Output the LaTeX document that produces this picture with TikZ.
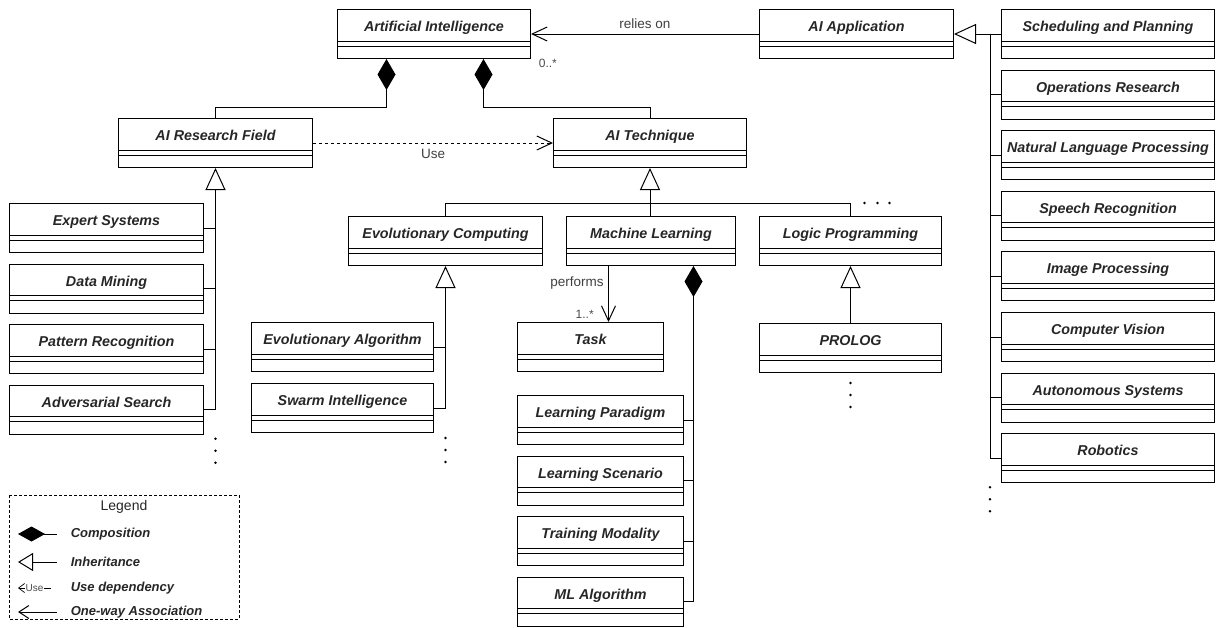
\documentclass[tikz,border=0pt]{standalone}
\usepackage{fontspec}
\setmainfont{Liberation Sans}
\usetikzlibrary{arrows.meta,positioning,calc}
\newcommand{\clsfont}{\fontsize{14.3}{16}\selectfont\bfseries\itshape}
\newcommand{\keyfont}{\fontsize{13}{15}\selectfont\bfseries\itshape}

\begin{document}
\begin{tikzpicture}[x=1pt,y=-1pt,line width=1pt,
  cls/.style={draw,anchor=north west,inner sep=0pt,minimum width=#1,
    text height=22pt,text depth=27pt,font=\clsfont,text=black!85},
  cls/.default=194,
  compose/.style={{Diamond[length=31pt,width=18pt]}-},
  inherit/.style={{Triangle[open,length=22pt,width=20pt]}-},
  assoc/.style={-{Straight Barb[length=15pt,width=14pt]}},
  usedep/.style={assoc,dash pattern=on 3pt off 3pt},
  lbl/.style={font=\fontsize{13.5}{15}\selectfont,text=black!75},
  mult/.style={font=\fontsize{12}{14}\selectfont,text=black!70},
  dot/.style={radius=1.4pt}]
\useasboundingbox (0,0) rectangle (1217,627);

\node[cls=193] (ai) at (337,9) {Artificial Intelligence};
\node[cls] (app) at (759,9) {AI Application};
\foreach \i/\n/\t in {0/sched/Scheduling and Planning,1/opres/Operations Research,
    2/nlp/Natural Language Processing,3/speech/Speech Recognition,
    4/image/Image Processing,5/vision/Computer Vision,
    6/autosys/Autonomous Systems,7/robot/Robotics}
  \node[cls=213] (\n) at (1001,9+60.6*\i) {\t};

\node[cls] (research) at (118,118) {AI Research Field};
\node[cls=193] (tech) at (553,118) {AI Technique};
\foreach \i/\n/\t in {0/expert/Expert Systems,1/mining/Data Mining,
    2/pattern/Pattern Recognition,3/adv/Adversarial Search}
  \node[cls] (\n) at (9,203+60.6*\i) {\t};

\node[cls] (evo) at (348,216) {Evolutionary Computing};
\node[cls=169] (ml) at (566,216) {Machine Learning};
\node[cls=182] (logic) at (759,216) {Logic Programming};
\node[cls=182] (evoalg) at (251,322) {Evolutionary Algorithm};
\node[cls=182] (swarm) at (251,383) {Swarm Intelligence};
\node[cls=146] (task) at (517,322) {Task};
\node[cls=182] (prolog) at (759,323) {PROLOG};
\foreach \i/\n/\t in {0/paradigm/Learning Paradigm,1/scenario/Learning Scenario,
    2/modality/Training Modality,3/mlalgo/ML Algorithm}
  \node[cls=166] (\n) at (517,395+60.6*\i) {\t};

\foreach \n in {ai,app,sched,opres,nlp,speech,image,vision,autosys,robot,
    research,tech,expert,mining,pattern,adv,evo,ml,logic,evoalg,swarm,
    task,prolog,paradigm,scenario,modality,mlalgo}
  \draw ([yshift=-32pt]\n.north west) -- ([yshift=-32pt]\n.north east)
        ([yshift=-37pt]\n.north west) -- ([yshift=-37pt]\n.north east);

\draw[assoc] (app.west) -- (ai.east) node[midway,above=2pt,lbl] {relies on};
\node[mult,anchor=west] (aimult) at ($(ai.south east)+(4,4)$) {0..*};

\draw[inherit] (app.east) -- (sched.west);
\coordinate (appspine) at ($(sched.west)+(-11,0)$);
\draw (appspine) |- (robot.west);
\foreach \n in {opres,nlp,speech,image,vision,autosys}
  \draw (\n.west) -- (\n.west -| appspine);

\draw[compose] ($(ai.south)+(-47.5,0)$) -- ++(0,48) -| (research.north);
\draw[compose] ($(ai.south)+(49.5,0)$) -- ++(0,48) -| (tech.north);
\draw[usedep] (research.east) -- (tech.west) node[midway,below=2pt,lbl] {Use};

\draw[inherit] (research.south) |- (adv.east);
\foreach \n in {expert,mining,pattern}
  \draw (\n.east) -- (\n.east -| research.south);

\draw[inherit] (tech.south) -- (tech.south |- ml.north);
\draw (evo.north) -- ++(0,-13) -| (logic.north);

\draw[inherit] (evo.south) |- (swarm.east);
\draw (evoalg.east) -- (evoalg.east -| evo.south);

\coordinate (perf) at ($(task.north)+(18,0)$);
\draw[assoc] (perf |- ml.south) -- (perf)
  node[pos=0.3,left=1pt,lbl] {performs}
  node[pos=1,anchor=south east,xshift=-11pt,mult] {1..*};

\coordinate (mlspine) at ($(ml.south)+(42.5,0)$);
\draw[compose] (mlspine) |- (mlalgo.east);
\foreach \n in {paradigm,scenario,modality}
  \draw (\n.east) -- (\n.east -| mlspine);

\draw[inherit] (logic.south) -- (prolog.north);

\foreach \d in {4,16,28} {
  \fill ($(research.south |- adv.south)+(0,\d)$) circle[dot];
  \fill ($(evo.south |- swarm.south)+(0,\d+1)$) circle[dot];
  \fill ($(prolog.south)+(0,\d+6)$) circle[dot];
  \fill ($(appspine |- robot.south)+(0,\d)$) circle[dot];
}
\foreach \d in {14,27,39}
  \fill ($(logic.north)+(\d,-13)$) circle[dot];

\draw[dash pattern=on 3pt off 2pt,line width=0.8pt] (9,495) rectangle (239,619);
\node[lbl,font=\fontsize{14}{16}\selectfont,text=black!85] (legend) at (124,507) {Legend};
\draw[{Diamond[length=27pt,width=15pt]}-] (18,534) -- (57,534);
\node[anchor=west,font=\keyfont,text=black!85] (kcomp) at (67,534) {Composition};
\draw[{Triangle[open,length=15pt,width=18pt]}-] (18,562) -- (57,562);
\node[anchor=west,font=\keyfont,text=black!85] (kinh) at (67,562) {Inheritance};
\draw[{Straight Barb[length=6pt,width=9pt]}-,line width=0.7pt] (18,588) -- (51,588)
  node[midway,fill=white,inner sep=0.5pt,font=\fontsize{10}{11}\selectfont,text=black!70] {Use};
\node[anchor=west,font=\keyfont,text=black!85] (kuse) at (67,588) {Use dependency};
\draw[{Straight Barb[length=10pt,width=13pt]}-] (18,612) -- (57,612);
\node[anchor=west,font=\keyfont,text=black!85] (kassoc) at (67,612) {One-way Association};
\end{tikzpicture}
\end{document}
